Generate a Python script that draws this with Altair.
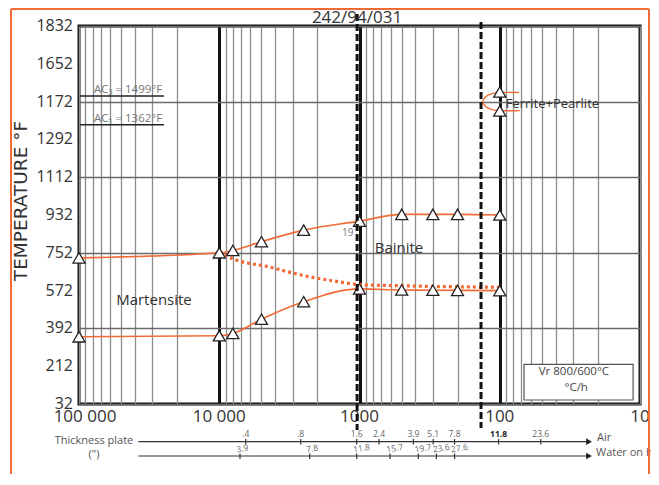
import altair as alt
import pandas as pd

# ---------------- data ----------------
rates = [100000, 10000, 8000, 5000, 2500, 1000, 500, 300, 200, 100]
upper_temp = [728, 752, 763, 805, 860, 903, 935, 935, 935, 932]
lower_temp = [352, 357, 368, 436, 519, 580, 575, 574, 573, 572]

dot_rates = [10000, 7750, 4500, 2600, 1500, 1000, 500, 100]
dot_temp = [756, 720, 686, 646, 617, 601, 595, 588]

fp_rates = [73, 100, 114.9, 127.1, 132.1, 127.1, 114.9, 100, 72]
fp_temp = [1515, 1515, 1509, 1493, 1472, 1451, 1435, 1429, 1429]
fp_mark_rates = [100, 100]
fp_mark_temp = [1518, 1428]

critical_rates = [1040, 136]

y_ticks = [32, 212, 392, 572, 752, 932, 1112, 1292, 1472, 1652, 1832]
y_tick_labels = ["32", "212", "392", "572", "752", "932", "1112", "1292", "1172", "1652", "1832"]
x_ticks = [m * 10 ** e for e in range(1, 5) for m in range(1, 10)] + [100000]
x_label_values = [100000, 10000, 1000, 100, 10]
x_label_texts = ["100 000", "10 000", "1000", "100", "10"]

ac_labels = ["AC\u2083 = 1499\u00b0F", "AC\u2081 = 1362\u00b0F"]
ac_temps = [1499, 1362]

air_thick = [".4", ".8", "1.6", "2.4", "3.9", "5.1", "7.8", "11.8", "23.6"]
air_rates = [6476, 2627, 1047, 726, 413, 298, 210, 102, 51]
water_thick = ["3.9", "7.8", "11.8", "15.7", "19.7", "23.6", "27.6"]
water_rates = [7113, 2265, 1047, 606, 381, 283, 210]

FONT = "Open Sans"
ORANGE = "#f26b36"
W, H = 561, 378

xs = alt.Scale(type="log", domain=[10, 100000], reverse=True)
ys = alt.Scale(domain=[32, 1832], nice=False, zero=False)


def X(f):
    return alt.X(f, scale=xs, title=None)


def Y(f):
    return alt.Y(f, scale=ys, title=None)


major = "datum.value==10000||datum.value==1000||datum.value==100"
x_axis = alt.Axis(
    values=x_ticks, title=None, ticks=False, domain=False, grid=True, labels=False,
    gridColor={"condition": {"test": major, "value": "#111"}, "value": "#8c8c8c"},
    gridWidth={"condition": {"test": major, "value": 3}, "value": 1.3},
)
y_axis = alt.Axis(
    values=y_ticks, title=None, ticks=False, domain=False, grid=True, labels=False,
    gridColor="#6b6b6b", gridWidth=1.5,
)

curves = pd.DataFrame({"rate": rates, "upper": upper_temp, "lower": lower_temp})
dots = pd.DataFrame({"rate": dot_rates, "temp": dot_temp})
fp = pd.DataFrame({"rate": fp_rates, "temp": fp_temp, "i": list(range(len(fp_rates)))})
fpm = pd.DataFrame({"rate": fp_mark_rates, "temp": fp_mark_temp})

upper = alt.Chart(curves).mark_line(color=ORANGE, strokeWidth=1.6, interpolate="monotone").encode(
    x=alt.X("rate:Q", scale=xs, axis=x_axis, title=None),
    y=alt.Y("upper:Q", scale=ys, axis=y_axis, title=None),
)
lower = alt.Chart(curves).mark_line(color=ORANGE, strokeWidth=1.6, interpolate="monotone").encode(
    x=X("rate:Q"), y=Y("lower:Q"))
dotted = alt.Chart(dots).mark_line(color=ORANGE, strokeWidth=3.2, strokeDash=[3, 3],
                                   interpolate="monotone").encode(
    x=X("rate:Q"), y=Y("temp:Q"))
fpline = alt.Chart(fp).mark_line(color=ORANGE, strokeWidth=1.4, interpolate="catmull-rom").encode(
    x=X("rate:Q"), y=Y("temp:Q"), order="i:Q")

tri = dict(shape="triangle-up", size=144, filled=True, fill="white", stroke="#222",
           strokeWidth=1.3, opacity=1)
up_pts = alt.Chart(curves).mark_point(**tri).encode(x=X("rate:Q"), y=Y("upper:Q"))
lo_pts = alt.Chart(curves).mark_point(**tri).encode(x=X("rate:Q"), y=Y("lower:Q"))
fp_pts = alt.Chart(fpm).mark_point(**tri).encode(x=X("rate:Q"), y=Y("temp:Q"))

# tick labels drawn from the tick lists through the scales
ylab = alt.Chart(pd.DataFrame({"v": y_ticks, "t": y_tick_labels})).mark_text(
    font=FONT, fontSize=16, color="#333", align="right", baseline="middle").encode(
    x=alt.value(-6), y=Y("v:Q"), text="t:N")
xlab_df = pd.DataFrame({"v": x_label_values, "t": x_label_texts})
xlab = alt.Chart(xlab_df).transform_filter("datum.v < 100000").mark_text(
    font=FONT, fontSize=17, color="#333", align="center", baseline="top").encode(
    x=X("v:Q"), y=alt.value(383), text="t:N")
xlab0 = alt.Chart(xlab_df).transform_filter("datum.v == 100000").mark_text(
    font=FONT, fontSize=17, color="#333", align="center", baseline="top", dx=6).encode(
    x=X("v:Q"), y=alt.value(383), text="t:N")

# small label partly hidden by the dashed line
lbl19 = alt.Chart(pd.DataFrame({"rate": [1333], "temp": [845], "t": ["19"]})).mark_text(
    font=FONT, fontSize=10, color="#777", align="left", baseline="middle").encode(
    x=X("rate:Q"), y=Y("temp:Q"), text="t:N")

dash1 = alt.Chart(pd.DataFrame({"rate": critical_rates[:1]})).mark_rule(
    color="#111", strokeWidth=3, strokeDash=[7, 3]).encode(
    x=X("rate:Q"), y=alt.value(-12), y2=alt.value(404))
dash2 = alt.Chart(pd.DataFrame({"rate": critical_rates[1:]})).mark_rule(
    color="#111", strokeWidth=3, strokeDash=[7, 3]).encode(
    x=X("rate:Q"), y=alt.value(-4), y2=alt.value(402))

# AC lines
ac = pd.DataFrame({"x1": [98400, 98400], "x2": [24800, 24800], "temp": ac_temps,
                   "t": ac_labels, "ty": [1513, 1375], "tx": [78200, 78200]})
ac_lines = alt.Chart(ac).mark_rule(color="#222", strokeWidth=1.5).encode(
    x=X("x1:Q"), x2="x2:Q", y=Y("temp:Q"))
ac_text = alt.Chart(ac).mark_text(font=FONT, fontSize=11.5, color="#777", align="left",
                                  baseline="alphabetic").encode(
    x=X("tx:Q"), y=Y("ty:Q"), text="t:N")

# region labels
regions = pd.DataFrame({"rate": [29200, 523], "temp": [526, 777], "t": ["Martensite", "Bainite"]})
reg_text = alt.Chart(regions).mark_text(font=FONT, fontSize=15, color="#333").encode(
    x=X("rate:Q"), y=Y("temp:Q"), text="t:N")
fp_text = alt.Chart(pd.DataFrame({"rate": [90.8], "temp": [1461], "t": ["Ferrite+Pearlite"]})).mark_text(
    font=FONT, fontSize=13, color="#333", align="left").encode(
    x=X("rate:Q"), y=Y("temp:Q"), text="t:N")

# Vr box
box = alt.Chart(pd.DataFrame({"x1": [67.1], "x2": [11.2], "y1": [221], "y2": [51]})).mark_rect(
    fill="white", stroke="#555", strokeWidth=1.2).encode(
    x=X("x1:Q"), x2="x2:Q", y=Y("y1:Q"), y2="y2:Q")
box_text = alt.Chart(pd.DataFrame({"rate": [29.6, 28.5], "temp": [184, 106],
                                   "t": ["Vr 800/600\u00b0C", "\u00b0C/h"]})).mark_text(
    font=FONT, fontSize=11.5, color="#444").encode(
    x=X("rate:Q"), y=Y("temp:Q"), text="t:N")


def ptext(t, px, py, **kw):
    return alt.Chart(pd.DataFrame({"t": [t]})).mark_text(**kw).encode(
        x=alt.value(px), y=alt.value(py), text="t:N")


def vrule(px, y1, y2, **kw):
    return alt.Chart(pd.DataFrame({"a": [0]})).mark_rule(**kw).encode(
        x=alt.value(px), y=alt.value(y1), y2=alt.value(y2))


def hrule(py, x1, x2, **kw):
    return alt.Chart(pd.DataFrame({"a": [0]})).mark_rule(**kw).encode(
        y=alt.value(py), x=alt.value(x1), x2=alt.value(x2))


# title and y title
title = ptext("242/94/031", 278, -3, font=FONT, fontSize=17, color="#333", baseline="alphabetic")
ytitle = ptext("TEMPERATURE \u00b0F", -58, 175, font="DejaVu Sans", fontSize=18.5, color="#333",
               angle=270, baseline="middle")

# thickness scales below the plot
scl = pd.DataFrame({"x1": [37760], "x2": [23.1]})
air_line = alt.Chart(scl).mark_rule(color="#333", strokeWidth=1.2).encode(
    x=X("x1:Q"), x2="x2:Q", y=alt.value(415.7))
water_line = alt.Chart(scl).mark_rule(color="#333", strokeWidth=1.2).encode(
    x=X("x1:Q"), x2="x2:Q", y=alt.value(430))
arr = dict(shape="triangle-right", size=45, filled=True, color="#222", opacity=1)
arrow1 = alt.Chart(scl).mark_point(**arr).encode(x=X("x2:Q"), y=alt.value(415.7))
arrow2 = alt.Chart(scl).mark_point(**arr).encode(x=X("x2:Q"), y=alt.value(430))

air = pd.DataFrame({"rate": air_rates, "t": air_thick, "b": [t == "11.8" for t in air_thick]})
water = pd.DataFrame({"rate": water_rates, "t": water_thick})
air_ticks = alt.Chart(air).mark_rule(color="#333", strokeWidth=1.2).encode(
    x=X("rate:Q"), y=alt.value(413), y2=alt.value(418.5))
water_ticks = alt.Chart(water).mark_rule(color="#333", strokeWidth=1.2).encode(
    x=X("rate:Q"), y=alt.value(427.5), y2=alt.value(433))
air_lbl = alt.Chart(air).transform_filter("!datum.b").mark_text(
    font=FONT, fontSize=8.5, color="#666", baseline="alphabetic").encode(
    x=X("rate:Q"), y=alt.value(411), text="t:N")
air_lbl_b = alt.Chart(air).transform_filter("datum.b").mark_text(
    font=FONT, fontSize=8.5, color="#222", fontWeight="bold", baseline="alphabetic").encode(
    x=X("rate:Q"), y=alt.value(411), text="t:N")
water_lbl = alt.Chart(water).mark_text(
    font=FONT, fontSize=8.5, color="#666", align="left", baseline="alphabetic", angle=350,
    dx=-3).encode(
    x=X("rate:Q"), y=alt.value(426), text="t:N")

side_kw = dict(font=FONT, fontSize=11, color="#555", baseline="middle")
side1 = ptext("Thickness plate", 15, 415, align="center", **side_kw)
side2 = ptext("(\")", 15, 429, align="center", **side_kw)
side3 = ptext("Air", 518, 412, align="left", **side_kw)
side4 = ptext("Water on hearth", 517, 427, align="left", **side_kw)

# orange page frame
fr = dict(color=ORANGE, strokeWidth=2)
frame_l = vrule(-68, -17, 448, **fr)
frame_r = vrule(570, -17, 448, **fr)
frame_t = hrule(-17, -68, 570, **fr)

chart = alt.layer(
    upper, lower, dotted, fpline, lbl19, up_pts, lo_pts, fp_pts, ylab, xlab, xlab0, dash1, dash2,
    ac_lines, ac_text, reg_text, fp_text, box, box_text, title, ytitle,
    air_line, water_line, arrow1, arrow2, air_ticks, water_ticks, air_lbl, air_lbl_b, water_lbl,
    side1, side2, side3, side4, frame_l, frame_r, frame_t,
).resolve_scale(x="shared", y="shared").properties(
    width=W, height=H,
    autosize=alt.AutoSizeParams(type="none"),
    padding={"left": 71, "top": 18, "right": 11, "bottom": 70},
).configure_view(stroke="#111", strokeWidth=3)

chart.save("out.html", embed_options={"renderer": "svg", "actions": False})
